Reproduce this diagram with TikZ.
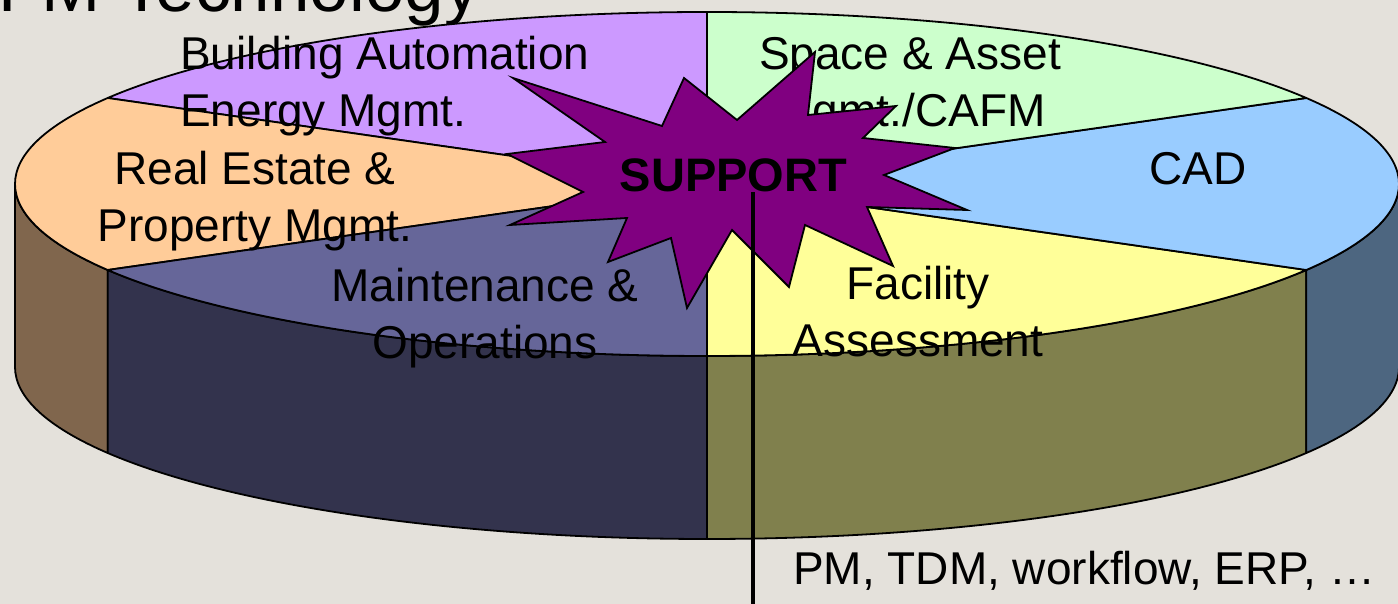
\documentclass[tikz,border=0pt]{standalone}
\usepackage{fontspec}
\setmainfont{Liberation Sans}
\usepackage{tikz}
\usetikzlibrary{positioning}
\definecolor{bgrey}{HTML}{E4E1DB}
\definecolor{lilac}{HTML}{CC99FF}
\definecolor{mint}{HTML}{CCFFCC}
\definecolor{skyblue}{HTML}{99CCFF}
\definecolor{paleyellow}{HTML}{FFFF99}
\definecolor{slate}{HTML}{666699}
\definecolor{peach}{HTML}{FFCC99}
\definecolor{peachside}{HTML}{80664D}
\definecolor{slateside}{HTML}{33334D}
\definecolor{yellowside}{HTML}{80804D}
\definecolor{blueside}{HTML}{4D6680}
\definecolor{starpurple}{HTML}{800080}

\begin{document}
\begin{tikzpicture}[x=1pt,y=1pt]
                \tikzstyle{every node}=[font=\fontsize{46}{57}\selectfont, inner sep=0pt]
                \tikzstyle{slice} = [draw=black, line width=1.8pt, line join=round]
                \tikzstyle{slicetext} = [align=center, anchor=base]
                \tikzstyle{burst} = [draw=black, line width=1.8pt, fill=starpurple]
                \tikzstyle{stem} = [line width=4pt]

                \useasboundingbox (0,0) rectangle (1398,604);
                \fill[bgrey] (0,0) rectangle (1398,604);

                % title, cut off at the top
                \node[anchor=base west, font=\fontsize{71}{80}\selectfont](title) at (-2,592) {FM Technology};

                \coordinate (c) at (707,420);

                % sides of the pie
                \draw[slice, fill=peachside] (c) ++(180:692pt and 172pt) arc (180:210:692pt and 172pt) -- ++(0,-183) arc (210:180:692pt and 172pt) -- cycle;
                \draw[slice, fill=slateside] (c) ++(210:692pt and 172pt) arc (210:270:692pt and 172pt) -- ++(0,-183) arc (270:210:692pt and 172pt) -- cycle;
                \draw[slice, fill=yellowside] (c) ++(270:692pt and 172pt) arc (270:330:692pt and 172pt) -- ++(0,-183) arc (330:270:692pt and 172pt) -- cycle;
                \draw[slice, fill=blueside] (c) ++(330:692pt and 172pt) arc (330:360:692pt and 172pt) -- ++(0,-183) arc (360:330:692pt and 172pt) -- cycle;

                % top of the pie
                \draw[slice, fill=lilac] (c) -- ++(90:692pt and 172pt) arc (90:150:692pt and 172pt) -- cycle;
                \draw[slice, fill=peach] (c) -- ++(150:692pt and 172pt) arc (150:210:692pt and 172pt) -- cycle;
                \draw[slice, fill=slate] (c) -- ++(210:692pt and 172pt) arc (210:270:692pt and 172pt) -- cycle;
                \draw[slice, fill=paleyellow] (c) -- ++(270:692pt and 172pt) arc (270:330:692pt and 172pt) -- cycle;
                \draw[slice, fill=skyblue] (c) -- ++(330:692pt and 172pt) arc (330:390:692pt and 172pt) -- cycle;
                \draw[slice, fill=mint] (c) -- ++(30:692pt and 172pt) arc (30:90:692pt and 172pt) -- cycle;

                % slice texts (base = last line)
                \node[slicetext, align=left, anchor=base west](bauto) at (180,477) {Building Automation\\Energy Mgmt.};
                \node[slicetext](estate) at (255,362) {Real Estate \&\\Property Mgmt.};
                \node[slicetext](space) at (910,477) {Space \& Asset\\Mgmt./CAFM};
                \node[slicetext](cad) at (1198,419) {CAD};
                \node[slicetext](maint) at (485,245) {Maintenance \&\\Operations};
                \node[slicetext](facility) at (918,247) {Facility\\Assessment};

                % starburst
                \draw[burst] (513,526) -- (662,478) -- (684,526) -- (737,484) -- (815,552) -- (808,489)
                    -- (896,498) -- (863,466) -- (955,456) -- (884,429) -- (967,394) -- (867,397)
                    -- (893,338) -- (805,379) -- (789,317) -- (732,374) -- (687,296) -- (671,366)
                    -- (608,342) -- (627,386) -- (510,379) -- (583,412) -- (507,450) -- (605,462) -- cycle;
                \node[anchor=base, font=\fontsize{47}{57}\selectfont\bfseries](support) at (733.5,412.3) {SUPPORT};

                % down to the other tools
                \coordinate (stembot) at (752.7,-5);
                \draw[stem] (support.south -| stembot) -- (stembot);
                \node[anchor=base west](tools) at (793,19) {PM, TDM, workflow, ERP, …};

\end{tikzpicture}
\end{document}
